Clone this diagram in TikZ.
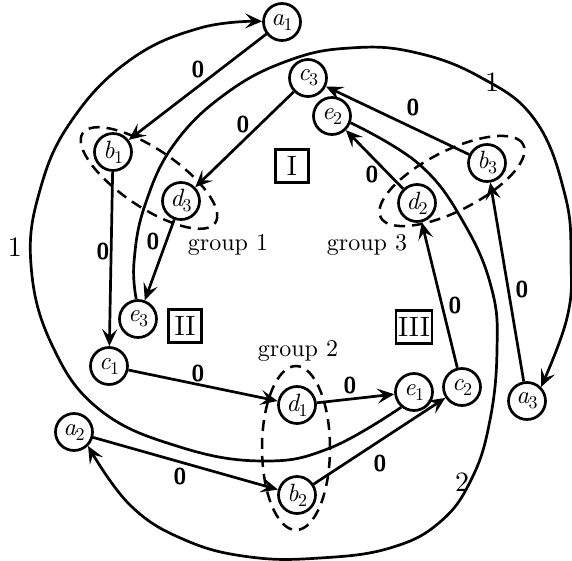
\documentclass[tikz,border=0pt]{standalone}
\usepackage{fontspec}
\setmainfont{lmroman10-regular.otf}[ItalicFont=lmroman10-italic.otf,BoldFont=lmroman10-bold.otf]
\setsansfont{lmsans10-regular.otf}[BoldFont=lmsans10-bold.otf]
\usetikzlibrary{arrows.meta}
\newcommand{\nlbl}[2]{{\itshape #1}\kern-0.5pt\raisebox{-5pt}{\fontsize{18}{19}\selectfont #2}}
\begin{document}
\begin{tikzpicture}[x=1pt,y=-1pt,
  st/.style={circle,draw,line width=2.7pt,minimum size=37pt,inner sep=0pt,fill=white,font=\fontsize{25}{26}\selectfont},
  edge/.style={line width=2.7pt,-{Stealth[length=17pt,width=15pt,inset=7pt]}},
  zero/.style={font=\sffamily\bfseries\fontsize{23}{24}\selectfont,inner sep=0pt},
  num/.style={font=\fontsize{28}{30}\selectfont,inner sep=0pt},
  grp/.style={font=\fontsize{24}{26}\selectfont,inner sep=0pt},
  rom/.style={draw,line width=2.7pt,minimum size=33pt,inner sep=2pt,font=\fontsize{28}{30}\selectfont},
  grpell/.style={draw,line width=2.5pt,dash pattern=on 11pt off 7pt}]
\useasboundingbox (0,0) rectangle (572,561);

% nodes
\node[st] (a1) at (282,22) {\nlbl{a}{1}};
\node[st] (b1) at (113,152) {\nlbl{b}{1}};
\node[st] (c3) at (308,78) {\nlbl{c}{3}};
\node[st] (e2) at (332,116) {\nlbl{e}{2}};
\node[st] (d3) at (181,201) {\nlbl{d}{3}};
\node[st] (e3) at (138,319) {\nlbl{e}{3}};
\node[st] (c1) at (109,366) {\nlbl{c}{1}};
\node[st] (a2) at (74,432) {\nlbl{a}{2}};
\node[st] (d1) at (297,405) {\nlbl{d}{1}};
\node[st] (b2) at (297,495) {\nlbl{b}{2}};
\node[st] (e1) at (414,392) {\nlbl{e}{1}};
\node[st] (c2) at (462,387) {\nlbl{c}{2}};
\node[st] (a3) at (527,401) {\nlbl{a}{3}};
\node[st] (d2) at (417,203) {\nlbl{d}{2}};
\node[st] (b3) at (487,163) {\nlbl{b}{3}};

% group ellipses
\draw[grpell, rotate around={-34:(149,178)}] (149,178) ellipse [x radius=80pt, y radius=29pt];
\draw[grpell, rotate around={27:(452,181)}] (452,181) ellipse [x radius=80pt, y radius=30pt];
\draw[grpell] (296,448) ellipse [x radius=34pt, y radius=82pt];

% straight edges
\draw[edge] (a1) -- (b1);
\draw[edge] (c3) -- (d3);
\draw[edge] (d3) -- (e3);
\draw[edge] (b1) -- (c1);
\draw[edge] (c1) -- (d1);
\draw[edge] (d1) -- (e1);
\draw[edge] (a2) -- (b2);
\draw[edge] (b2) -- (c2);
\draw[edge] (c2) -- (d2);
\draw[edge] (d2) -- (e2);
\draw[edge] (a3) -- (b3);
\draw[edge] (b3) -- (c3);

% long arcs
\draw[edge] plot[smooth, tension=0.7] coordinates {(e1.230) (330,448) (263,461) (180,447) (100,410) (52,345) (31,265) (40,190) (72,120) (130,60) (200,28) (a1.178)};
\draw[edge] plot[smooth, tension=0.7] coordinates {(e3.95) (134,262) (145,205) (175,143) (228,92) (290,60) (350,48) (413,52) (480,77) (535,120) (565,195) (571,260) (567,318) (a3.45)};
\draw[edge] plot[smooth, tension=0.7] coordinates {(e2.-20) (420,165) (465,225) (492,290) (497,350) (490,420) (472,478) (440,522) (390,548) (320,558) (250,557) (185,540) (130,505) (a2.-45)};

% edge labels
\node[zero] (z1) at (198,70) {0};
\node[zero] (z2) at (243,125) {0};
\node[zero] (z3) at (153,242) {0};
\node[zero] (z4) at (103,252) {0};
\node[zero] (z5) at (198,374) {0};
\node[zero] (z6) at (350,386) {0};
\node[zero] (z7) at (180,477) {0};
\node[zero] (z8) at (380,464) {0};
\node[zero] (z9) at (455,306) {0};
\node[zero] (z10) at (372,175) {0};
\node[zero] (z11) at (522,290) {0};
\node[zero] (z12) at (413,108) {0};

\node[num] (n1) at (15,247) {1};
\node[num] (n2) at (492,82) {1};
\node[num] (n3) at (462,482) {2};

% group labels
\node[grp] (g1) at (228,245) {group 1};
\node[grp] (g3) at (367,245) {group 3};
\node[grp] (g2) at (298,351) {group 2};

% region boxes
\node[rom] (r1) at (292,166) {I};
\node[rom] (r2) at (185,326) {II};
\node[rom] (r3) at (414,327) {III};
\end{tikzpicture}
\end{document}
